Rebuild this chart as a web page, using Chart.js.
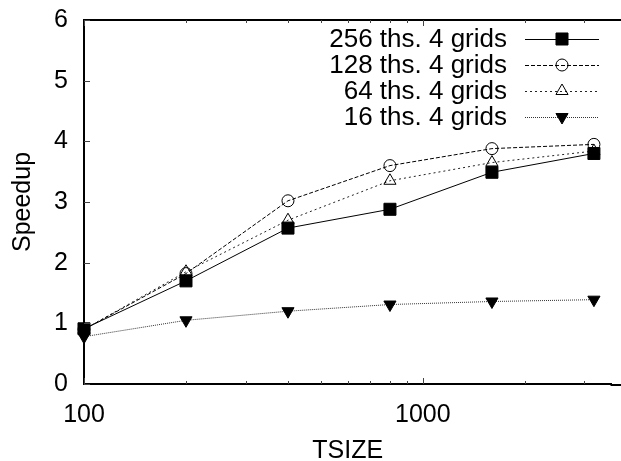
<!DOCTYPE html>
<html lang="en">
<head>
  <meta charset="UTF-8">
  <title>Speedup vs TSIZE</title>
  <script src="https://cdn.jsdelivr.net/npm/chart.js"></script>
  <style>
    html, body { margin: 0; padding: 0; background: #fff; }
    #wrap { width: 621px; height: 461px; }
  </style>
</head>
<body>
  <div id="wrap"><canvas id="speedChart" width="621" height="461"></canvas></div>

  <script>
    // valores
    const tsize = [100, 200, 400, 800, 1600, 3200];
    const sp256 = [0.91, 1.70, 2.57, 2.88, 3.49, 3.80];
    const sp128 = [0.90, 1.82, 3.02, 3.60, 3.88, 3.95];
    const sp64  = [0.90, 1.85, 2.70, 3.35, 3.65, 3.84];
    const sp16  = [0.78, 1.05, 1.20, 1.31, 1.36, 1.39];
    const seriesNames = ['256 ths. 4 grids', '128 ths. 4 grids', '64 ths. 4 grids', '16 ths. 4 grids'];
    const xLabelTicks = [100, 1000];
    const xMinorTicks = [200, 300, 400, 500, 600, 700, 800, 900, 2000, 3000];
    const yTicks = [0, 1, 2, 3, 4, 5, 6];

    Chart.defaults.font.family = '"Liberation Sans", Arial, sans-serif';
    Chart.defaults.font.size = 25;
    Chart.defaults.color = '#000';

    function toXY(ys) {
      return tsize.map((x, i) => ({ x: x, y: ys[i] }));
    }

    // moldura, ticks internos e legenda no estilo gnuplot
    const gnuplotLook = {
      id: 'gnuplotLook',
      afterDraw(chart) {
        const ctx = chart.ctx;
        const a = chart.chartArea;
        const xs = chart.scales.x, ys = chart.scales.y;
        const W = chart.width;
        ctx.save();
        ctx.strokeStyle = '#000';
        ctx.lineWidth = 2;
        ctx.beginPath();
        ctx.moveTo(a.left, a.top);
        ctx.lineTo(W, a.top);
        // o quadro continua até a borda da imagem
        ctx.moveTo(a.right - 1, a.bottom + 1);
        ctx.lineTo(W, a.bottom + 1);
        ctx.stroke();

        ctx.lineWidth = 1;
        ctx.strokeStyle = '#444';
        ctx.beginPath();
        yTicks.forEach(v => {
          const py = Math.round(ys.getPixelForValue(v)) + 0.5;
          ctx.moveTo(a.left, py); ctx.lineTo(a.left + 6, py);
        });
        xLabelTicks.forEach(v => {
          const px = Math.round(xs.getPixelForValue(v)) + 0.5;
          ctx.moveTo(px, a.bottom); ctx.lineTo(px, a.bottom - 6);
          ctx.moveTo(px, a.top); ctx.lineTo(px, a.top + 6);
        });
        xMinorTicks.forEach(v => {
          const px = Math.round(xs.getPixelForValue(v)) + 0.5;
          ctx.moveTo(px, a.bottom); ctx.lineTo(px, a.bottom - 3);
          ctx.moveTo(px, a.top); ctx.lineTo(px, a.top + 3);
        });
        ctx.stroke();

        // legenda
        const textRight = W - 114;
        const lineL = W - 96, lineR = W - 22;
        ctx.font = '26px "Liberation Sans", Arial, sans-serif';
        ctx.textAlign = 'right';
        ctx.textBaseline = 'middle';
        chart.data.datasets.forEach((ds, i) => {
          const y = a.top + 19 + i * 26;
          ctx.fillStyle = '#000';
          ctx.fillText(ds.label, textRight, y + 1);
          ctx.save();
          ctx.strokeStyle = ds.borderColor;
          ctx.lineWidth = ds.borderWidth;
          ctx.setLineDash(ds.borderDash || []);
          ctx.beginPath();
          ctx.moveTo(lineL, y + 0.5); ctx.lineTo(lineR, y + 0.5);
          ctx.stroke();
          ctx.restore();
          ctx.save();
          ctx.setLineDash([]);
          ctx.fillStyle = ds.pointBackgroundColor;
          ctx.strokeStyle = ds.pointBorderColor;
          ctx.lineWidth = 1;
          Chart.helpers.drawPoint(ctx, {
            pointStyle: ds.pointStyle,
            radius: ds.pointRadius,
            rotation: ds.pointRotation || 0,
            borderWidth: 1
          }, (lineL + lineR) / 2, y);
          ctx.restore();
        });
        ctx.restore();
      }
    };

    const ctx = document.getElementById('speedChart').getContext('2d');
    const common = { borderWidth: 1, fill: false, tension: 0, clip: false, pointBorderWidth: 1 };
    new Chart(ctx, {
      type: 'line',
      data: {
        datasets: [
          Object.assign({}, common, {
            label: seriesNames[0], data: toXY(sp256),
            borderColor: '#000', pointStyle: 'rect', pointRadius: 8.5,
            pointBackgroundColor: '#000', pointBorderColor: '#000'
          }),
          Object.assign({}, common, {
            label: seriesNames[1], data: toXY(sp128),
            borderColor: '#000', borderDash: [4, 2], pointStyle: 'circle', pointRadius: 6,
            pointBackgroundColor: 'rgba(255,255,255,0)', pointBorderColor: '#000'
          }),
          Object.assign({}, common, {
            label: seriesNames[2], data: toXY(sp64),
            borderColor: '#222', borderDash: [2, 3], pointStyle: 'triangle', pointRadius: 7,
            pointBackgroundColor: 'rgba(255,255,255,0)', pointBorderColor: '#000'
          }),
          Object.assign({}, common, {
            label: seriesNames[3], data: toXY(sp16),
            borderColor: '#333', borderDash: [1, 1], pointStyle: 'triangle', pointRadius: 7,
            pointRotation: 180,
            pointBackgroundColor: '#000', pointBorderColor: '#000'
          })
        ]
      },
      options: {
        responsive: false,
        animation: false,
        layout: { padding: { top: 20, right: 1, left: 0, bottom: 0 } },
        plugins: {
          legend: { display: false },
          tooltip: { enabled: false }
        },
        scales: {
          x: {
            type: 'logarithmic',
            min: 100,
            max: 3606,
            grid: { display: false, drawTicks: false },
            border: { display: true, color: '#000', width: 2 },
            ticks: {
              autoSkip: false,
              maxRotation: 0,
              padding: 16,
              callback: (v) => xLabelTicks.includes(v) ? String(v) : ''
            },
            title: { display: true, text: 'TSIZE', padding: { top: 0, bottom: -5 } },
            afterFit: (s) => { s.height = 77; s.paddingLeft = 0; s.paddingRight = 0; }
          },
          y: {
            min: 0,
            max: 6,
            grid: { display: false, drawTicks: false },
            border: { display: true, color: '#000', width: 2 },
            ticks: { stepSize: 1, padding: 16 },
            title: { display: true, text: 'Speedup', padding: { top: 8, bottom: 0 } },
            afterFit: (s) => { s.width = 84; s.paddingTop = 0; s.paddingBottom = 0; }
          }
        }
      },
      plugins: [gnuplotLook]
    });
  </script>
</body>
</html>
